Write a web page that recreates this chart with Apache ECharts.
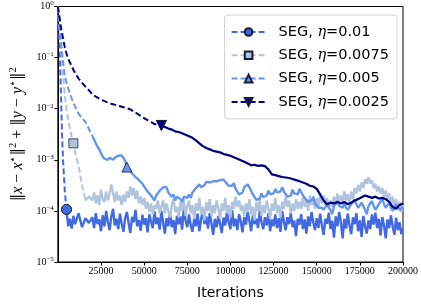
<!DOCTYPE html>
<html><head><meta charset="utf-8">
<script src="https://cdn.jsdelivr.net/npm/echarts@6/dist/echarts.min.js"></script>
<style>html,body{margin:0;padding:0;background:#fff}#c{width:421px;height:305px}</style>
</head><body><div id="c"></div>
<script>
// iteration grid for the three noisy runs
const iterationsFine = [0,500,1000,1500,2000,2500,3000,4000,5000,6000,7000,8000,9000,10000,12000,14000,16000,18000,
20000,21000,22000,23000,24000,25000,26000,27000,28000,29000,
30000,31000,32000,33000,34000,35000,36000,37000,38000,39000,
40000,41000,42000,43000,44000,45000,46000,47000,48000,49000,
50000,51000,52000,53000,54000,55000,56000,57000,58000,59000,
60000,61000,62000,63000,64000,65000,66000,67000,68000,69000,
70000,71000,72000,73000,74000,75000,76000,77000,78000,79000,
80000,81000,82000,83000,84000,85000,86000,87000,88000,89000,
90000,91000,92000,93000,94000,95000,96000,97000,98000,99000,
100000,101000,102000,103000,104000,105000,106000,107000,108000,109000,
110000,111000,112000,113000,114000,115000,116000,117000,118000,119000,
120000,121000,122000,123000,124000,125000,126000,127000,128000,129000,
130000,131000,132000,133000,134000,135000,136000,137000,138000,139000,
140000,141000,142000,143000,144000,145000,146000,147000,148000,149000,
150000,151000,152000,153000,154000,155000,156000,157000,158000,159000,
160000,161000,162000,163000,164000,165000,166000,167000,168000,169000,
170000,171000,172000,173000,174000,175000,176000,177000,178000,179000,
180000,181000,182000,183000,184000,185000,186000,187000,188000,189000,
190000,191000,192000,193000,194000,195000,196000,197000,198000,199000,
200000];

// iteration grid for the smoother eta=0.0025 run
const iterationsCoarse = [0,500,1000,1500,2000,2500,3000,4000,5000,6000,7000,8000,9000,10000,12000,14000,16000,18000,
20000,22000,24000,26000,28000,30000,32000,34000,36000,38000,
40000,42000,44000,46000,48000,50000,52000,54000,56000,58000,
60000,62000,64000,66000,68000,70000,72000,74000,76000,78000,
80000,82000,84000,86000,88000,90000,92000,94000,96000,98000,
100000,102000,104000,106000,108000,110000,112000,114000,116000,118000,
120000,122000,124000,126000,128000,130000,132000,134000,136000,138000,
140000,142000,144000,146000,148000,150000,152000,154000,156000,158000,
160000,162000,164000,166000,168000,170000,172000,174000,176000,178000,
180000,182000,184000,186000,188000,190000,192000,194000,196000,198000,
200000];

const seg_0010 = [1.0,0.45,0.18,0.05,0.01,2.8e-3,1.0e-3,2.5e-4,1.07e-4,5.0e-5,7.0e-5,4.5e-5,8.0e-5,5.5e-5,9.0e-5,4.8e-5,7.2e-5,5.8e-5,
7.5e-5,4.6e-5,9.0e-5,5.5e-5,6.8e-5,4.0e-5,8.2e-5,5.0e-5,1.0e-4,6.0e-5,
4.2e-5,7.8e-5,1.1e-4,5.2e-5,7.0e-5,4.4e-5,8.8e-5,5.6e-5,3.9e-5,7.2e-5,
9.5e-5,5.8e-5,3.7e-5,7.6e-5,6.0e-5,1.05e-4,5.0e-5,6.6e-5,4.1e-5,8.4e-5,
5.4e-5,7.2e-5,3.8e-5,8.6e-5,6.2e-5,4.6e-5,9.8e-5,5.5e-5,7.4e-5,4.3e-5,
1.0e-4,6.0e-5,3.6e-5,7.2e-5,5.0e-5,9.2e-5,4.8e-5,6.6e-5,3.5e-5,8.0e-5,
5.5e-5,7.8e-5,4.3e-5,1.1e-4,6.5e-5,4.8e-5,8.5e-5,5.2e-5,3.9e-5,7.0e-5,
5.0e-5,8.8e-5,4.0e-5,6.8e-5,1.0e-4,5.5e-5,7.8e-5,4.5e-5,9.0e-5,5.8e-5,
3.4e-5,7.0e-5,4.8e-5,8.0e-5,5.6e-5,3.7e-5,7.4e-5,5.2e-5,9.4e-5,6.0e-5,
4.4e-5,1.05e-4,5.0e-5,7.0e-5,4.2e-5,8.6e-5,6.2e-5,3.8e-5,7.6e-5,5.4e-5,
9.5e-5,6.5e-5,4.0e-5,8.2e-5,5.5e-5,7.0e-5,4.6e-5,1.0e-4,6.0e-5,4.4e-5,
7.5e-5,5.2e-5,9.0e-5,4.0e-5,6.8e-5,5.0e-5,8.5e-5,4.6e-5,7.2e-5,3.9e-5,
1.0e-4,6.2e-5,4.2e-5,7.5e-5,5.5e-5,9.0e-5,4.8e-5,6.5e-5,3.2e-5,7.0e-5,
5.4e-5,8.6e-5,4.4e-5,6.8e-5,3.6e-5,7.8e-5,5.0e-5,9.5e-5,6.0e-5,4.2e-5,
7.2e-5,4.6e-5,8.8e-5,5.2e-5,3.4e-5,7.0e-5,5.6e-5,9.2e-5,4.4e-5,6.4e-5,
3.0e-5,7.8e-5,5.0e-5,9.5e-5,6.0e-5,2.9e-5,7.0e-5,4.5e-5,8.8e-5,5.2e-5,
3.5e-5,7.5e-5,5.5e-5,9.0e-5,4.0e-5,6.5e-5,3.1e-5,8.0e-5,5.0e-5,3.6e-5,
6.5e-5,4.4e-5,8.5e-5,5.4e-5,9.2e-5,4.6e-5,7.0e-5,3.3e-5,7.6e-5,5.2e-5,
2.9e-5,6.8e-5,4.6e-5,8.2e-5,5.0e-5,3.4e-5,7.4e-5,4.2e-5,6.0e-5,3.5e-5,
4.5e-5];

const seg_0075 = [1.0,0.7,0.4,0.25,0.15,0.09,0.05,0.018,0.01,6.0e-3,4.0e-3,2.8e-3,2.1e-3,1.4e-3,7.5e-4,3.2e-4,1.6e-4,1.9e-4,
1.6e-4,2.3e-4,1.4e-4,2.0e-4,1.3e-4,2.6e-4,1.7e-4,1.5e-4,2.4e-4,1.6e-4,
2.2e-4,3.3e-4,2.2e-4,1.5e-4,2.4e-4,1.6e-4,2.0e-4,1.3e-4,2.1e-4,1.5e-4,
2.4e-4,1.8e-4,3.0e-4,2.0e-4,2.8e-4,1.7e-4,2.5e-4,1.4e-4,1.9e-4,1.3e-4,
1.8e-4,1.1e-4,1.5e-4,9.5e-5,1.4e-4,8.5e-5,1.3e-4,1.1e-4,1.6e-4,9.0e-5,
1.2e-4,1.6e-4,9.0e-5,1.4e-4,1.0e-4,7.5e-5,1.3e-4,1.7e-4,9.5e-5,1.2e-4,
7.5e-5,1.5e-4,1.0e-4,1.7e-4,8.0e-5,1.2e-4,1.6e-4,9.0e-5,1.3e-4,7.0e-5,
1.4e-4,1.0e-4,1.8e-4,8.5e-5,1.2e-4,6.5e-5,1.5e-4,1.0e-4,1.7e-4,8.0e-5,
1.3e-4,9.0e-5,1.6e-4,1.1e-4,7.0e-5,1.4e-4,1.0e-4,1.8e-4,9.0e-5,1.3e-4,
7.5e-5,1.5e-4,1.1e-4,1.9e-4,1.2e-4,1.6e-4,1.0e-4,1.3e-4,8.0e-5,1.4e-4,
1.0e-4,1.7e-4,8.5e-5,1.2e-4,6.5e-5,1.5e-4,1.0e-4,1.7e-4,8.0e-5,1.3e-4,
9.0e-5,1.6e-4,1.1e-4,7.0e-5,1.4e-4,1.0e-4,1.8e-4,9.0e-5,1.3e-4,7.5e-5,
1.5e-4,1.1e-4,1.9e-4,1.2e-4,1.6e-4,9.0e-5,1.4e-4,1.0e-4,1.7e-4,1.1e-4,
1.5e-4,1.1e-4,1.9e-4,1.2e-4,1.6e-4,1.0e-4,2.0e-4,1.3e-4,1.7e-4,1.1e-4,
1.8e-4,1.2e-4,2.2e-4,1.4e-4,2.0e-4,1.3e-4,1.8e-4,1.1e-4,1.6e-4,1.2e-4,
1.9e-4,1.3e-4,2.2e-4,1.5e-4,2.0e-4,1.4e-4,2.4e-4,1.6e-4,2.1e-4,1.4e-4,
2.4e-4,1.7e-4,2.8e-4,2.2e-4,3.2e-4,2.4e-4,3.6e-4,2.8e-4,4.2e-4,3.4e-4,
4.6e-4,3.4e-4,4.0e-4,2.8e-4,3.4e-4,2.4e-4,3.0e-4,2.2e-4,2.8e-4,1.9e-4,
2.5e-4,1.7e-4,2.2e-4,1.4e-4,1.9e-4,1.2e-4,1.7e-4,1.1e-4,1.5e-4,9.5e-5,
1.3e-4];

const seg_0050 = [1.0,0.8,0.5,0.3,0.17,0.12,0.085,0.045,0.032,0.025,0.02,0.016,0.013,0.011,8.0e-3,6.5e-3,5.5e-3,4.0e-3,
2.9e-3,2.5e-3,2.1e-3,1.8e-3,1.6e-3,1.35e-3,1.15e-3,1.05e-3,1.1e-3,1.0e-3,
1.1e-3,1.02e-3,1.0e-3,1.1e-3,1.15e-3,1.2e-3,1.3e-3,1.22e-3,1.1e-3,9.5e-4,
7.2e-4,6.6e-4,6.2e-4,5.4e-4,5.2e-4,4.6e-4,4.5e-4,4.0e-4,4.0e-4,3.4e-4,
3.0e-4,2.8e-4,2.4e-4,2.3e-4,2.0e-4,1.9e-4,1.6e-4,2.0e-4,2.1e-4,2.5e-4,
2.5e-4,2.9e-4,2.7e-4,2.9e-4,2.3e-4,2.4e-4,1.9e-4,2.1e-4,1.6e-4,1.9e-4,
1.8e-4,1.7e-4,1.5e-4,1.9e-4,2.0e-4,1.8e-4,2.1e-4,1.8e-4,2.3e-4,2.3e-4,
2.8e-4,2.7e-4,3.3e-4,2.9e-4,2.9e-4,3.2e-4,3.7e-4,3.6e-4,3.6e-4,3.3e-4,
3.8e-4,3.9e-4,3.8e-4,3.5e-4,4.0e-4,4.1e-4,4.1e-4,3.7e-4,3.6e-4,3.1e-4,
3.1e-4,3.1e-4,3.5e-4,2.7e-4,2.5e-4,2.1e-4,2.1e-4,2.3e-4,2.9e-4,2.9e-4,
3.3e-4,2.9e-4,2.7e-4,2.1e-4,2.0e-4,1.65e-4,1.7e-4,1.75e-4,2.2e-4,1.85e-4,
1.9e-4,2.0e-4,2.5e-4,2.1e-4,2.1e-4,2.2e-4,2.7e-4,2.3e-4,2.3e-4,2.4e-4,
2.9e-4,2.4e-4,2.4e-4,1.9e-4,1.9e-4,2.0e-4,2.6e-4,2.2e-4,2.1e-4,2.1e-4,
2.7e-4,2.3e-4,2.2e-4,1.8e-4,1.8e-4,1.5e-4,1.6e-4,1.6e-4,1.9e-4,1.4e-4,
1.35e-4,1.15e-4,1.15e-4,1.15e-4,1.05e-4,1.05e-4,1.35e-4,1.15e-4,1.05e-4,8.6e-5,
1.25e-4,1.35e-4,1.55e-4,1.25e-4,1.15e-4,1.15e-4,1.45e-4,1.15e-4,1.05e-4,1.05e-4,
1.35e-4,1.45e-4,1.65e-4,1.35e-4,1.15e-4,1.15e-4,1.45e-4,1.25e-4,1.05e-4,8.6e-5,
1.25e-4,1.35e-4,1.55e-4,1.25e-4,1.05e-4,1.05e-4,1.35e-4,1.45e-4,1.75e-4,1.35e-4,
1.15e-4,1.15e-4,1.45e-4,1.15e-4,1.0e-4,1.05e-4,1.35e-4,1.15e-4,1.05e-4,1.05e-4,
1.2e-4];

const seg_0025 = [1.0,0.75,0.6,0.45,0.36,0.3,0.24,0.16,0.12,0.095,0.08,0.068,0.058,0.05,0.039,0.032,0.027,0.023,
0.019,0.0172,0.0158,0.0146,0.0136,0.0128,0.0122,0.0117,0.0112,0.0107,
0.0102,0.0097,0.0088,0.008,0.0072,0.0065,0.006,0.0055,0.005,0.0048,
0.0047,0.0044,0.0041,0.0039,0.0036,0.0035,0.0033,0.0031,0.0029,0.0027,
0.0024,0.0021,0.00185,0.0017,0.0016,0.0015,0.00145,0.0014,0.0013,0.00125,
0.0012,0.00112,0.00105,0.00098,0.00092,0.00085,0.00078,0.0008,0.00076,0.00078,
0.00075,0.00065,0.00052,0.0005,0.00048,0.00046,0.00045,0.00044,0.00042,0.0004,
0.00038,0.00036,0.00034,0.00031,0.0003,0.00027,0.00021,0.00016,0.000135,0.000145,
0.00014,0.00015,0.00014,0.00015,0.000135,0.000145,0.00016,0.00017,0.000185,0.0002,
0.00019,0.00018,0.00019,0.000175,0.00018,0.00017,0.00015,0.00012,0.00011,0.00013,
0.00014];

const seriesNames = ['SEG, η=0.01','SEG, η=0.0075','SEG, η=0.005','SEG, η=0.0025'];
const seriesIterations = [iterationsFine, iterationsFine, iterationsFine, iterationsCoarse];
const seriesValues = [seg_0010, seg_0075, seg_0050, seg_0025];
const xTicks = [25000,50000,75000,100000,125000,150000,175000,200000];

// style
const seriesColors = ['#4169E1','#B0C4DE','#6495ED','#000080'];
const markerIndex = [8, 12, 38, 38];
const dashedUntil = [8, 16, 18, 38];
const markerSymbols = ['circle','rect','triangle','triangle'];
const markerRotate = [0, 0, 0, 180];

const serif = 'Liberation Serif';
const chart = echarts.init(document.getElementById('c'), null, {renderer:'canvas'});

const series = [];
seriesNames.forEach((name, k) => {
  const pts = seriesIterations[k].map((x, i) => [x, seriesValues[k][i]]);
  const cut = dashedUntil[k];
  const msize = k === 1 ? 9 : 10;
  series.push({
    type: 'line', name: name,
    data: pts.slice(0, cut + 1),
    symbol: markerSymbols[k], symbolRotate: markerRotate[k],
    symbolSize: (v, p) => p.dataIndex === markerIndex[k] ? msize : 0,
    showSymbol: true, showAllSymbol: true,
    lineStyle: {color: seriesColors[k], width: 2, type: [6, 3]},
    itemStyle: {color: seriesColors[k], borderColor: '#1a1a3a', borderWidth: 0.8},
    emphasis: {disabled: true}, z: 3 + 2 * k, animation: false
  });
  series.push({
    type: 'line', name: name,
    data: pts.slice(cut),
    symbol: markerSymbols[k], symbolRotate: markerRotate[k],
    symbolSize: (v, p) => (p.dataIndex + cut) === markerIndex[k] ? msize : 0,
    showSymbol: true, showAllSymbol: true,
    lineStyle: {color: seriesColors[k], width: k === 3 ? 2.2 : 2.4, type: 'solid'},
    itemStyle: {color: seriesColors[k], borderColor: '#1a1a3a', borderWidth: 0.8},
    emphasis: {disabled: true}, z: 2 + 2 * k, animation: false
  });
});

chart.setOption({
  animation: false,
  backgroundColor: '#fff',
  grid: {left: 51, right: 16, top: 6, bottom: 35, show: true, borderColor: '#000', borderWidth: 1, backgroundColor: 'transparent'},
  legend: {
    orient: 'vertical', right: 24, top: 15,
    itemWidth: 34, itemHeight: 9.5, itemGap: 7.3,
    borderColor: '#d0d0d0', borderWidth: 1, borderRadius: 3,
    padding: [9, 8, 9, 6],
    backgroundColor: 'rgba(255,255,255,0.8)',
    data: seriesNames,
    formatter: n => n.replace('η', '{i|η}'),
    textStyle: {fontFamily: 'DejaVu Sans', fontSize: 14.5, lineHeight: 16, color: '#000', padding: [0,0,0,8],
      rich: {i: {fontFamily: 'DejaVu Serif', fontStyle: 'italic', fontSize: 14.5, lineHeight: 16, color: '#000'}}}
  },
  xAxis: {
    type: 'value', min: 0, max: 200000, interval: 25000,
    name: 'Iterations', nameLocation: 'middle', nameGap: 24,
    nameTextStyle: {fontFamily: 'DejaVu Sans', fontSize: 14, color: '#000'},
    axisLine: {show: true, lineStyle: {color: '#000', width: 1}},
    axisTick: {show: true, length: 3.5, lineStyle: {color: '#000'}},
    axisLabel: {showMinLabel: false, fontFamily: serif, fontSize: 10, color: '#000', margin: 4,
      formatter: v => xTicks.indexOf(v) >= 0 ? String(v) : ''},
    splitLine: {show: false}
  },
  yAxis: {
    type: 'log', logBase: 10, min: 1e-5, max: 1,
    name: '{d|‖}{i|x}{n| − }{i|x}{s|⋆}{d|‖}{s|2}{n| + }{d|‖}{i|y}{n| − }{i|y}{s|⋆}{d|‖}{s|2}',
    nameLocation: 'middle', nameGap: 27, nameRotate: 90,
    nameTextStyle: {color: '#000', rich: {
      d: {fontFamily: 'DejaVu Serif', fontSize: 15, color: '#000'},
      n: {fontFamily: serif, fontSize: 16, color: '#000'},
      i: {fontFamily: serif, fontStyle: 'italic', fontSize: 16, color: '#000'},
      s: {fontFamily: serif, fontSize: 10.5, color: '#000', padding: [0,0,8,0]}
    }},
    axisLine: {show: true, lineStyle: {color: '#000', width: 1}},
    axisTick: {show: true, length: 3.5, lineStyle: {color: '#000'}},
    minorTick: {show: false},
    axisLabel: {
      margin: 4,
      formatter: v => '{b|10}{e|' + (Math.round(Math.log10(v)) === 0 ? '0' : '−' + Math.abs(Math.round(Math.log10(v)))) + '}',
      rich: {
        b: {fontFamily: serif, fontSize: 10, color: '#000'},
        e: {fontFamily: serif, fontSize: 7, color: '#000', padding: [0,0,6,0]}
      }
    },
    splitLine: {show: false}
  },
  series: series
});
</script></body></html>
